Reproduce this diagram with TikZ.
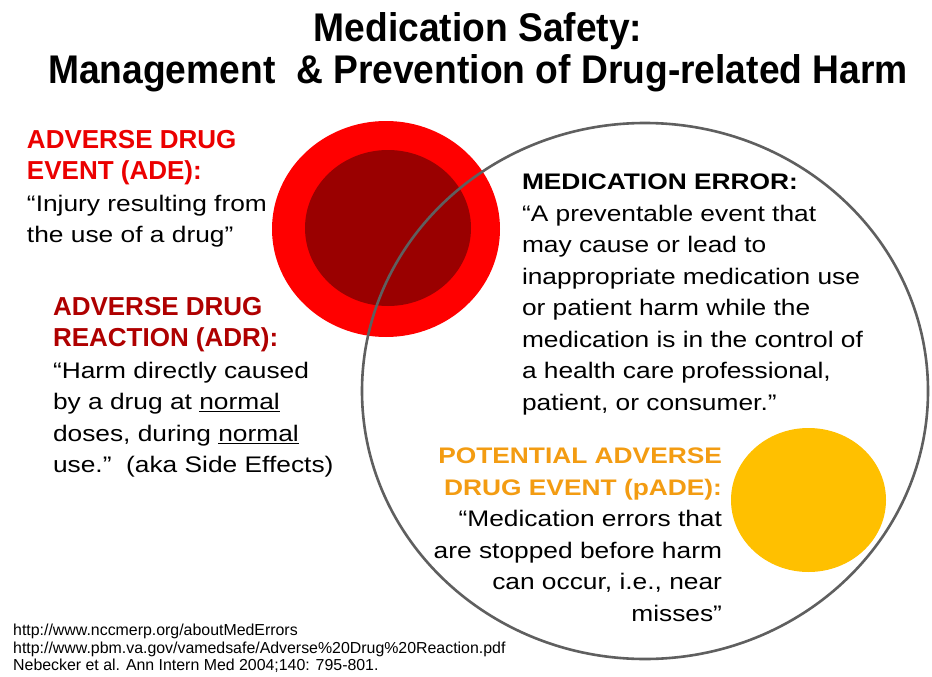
\documentclass[tikz,border=0pt]{standalone}
\usepackage{fontspec}
\setmainfont{Liberation Sans}
% slightly condensed face for the title, widened face for the definitions
\newfontfamily\titlefont[FakeStretch=0.93]{Liberation Sans}
\newfontfamily\slidefont[FakeStretch=1.17]{Liberation Sans}
\newfontfamily\notefont{Liberation Sans}

\definecolor{adered}{RGB}{235,0,0}
\definecolor{adrdark}{RGB}{175,0,0}
\definecolor{innerdark}{RGB}{154,0,0}
\definecolor{circlered}{RGB}{255,0,0}
\definecolor{ringgrey}{RGB}{95,95,95}
\definecolor{padeorange}{RGB}{243,156,18}
\definecolor{padeyellow}{RGB}{255,192,0}

% bold headings at two sizes, same line pitch as the body text
\newcommand\bighead[1]{{\notefont\bfseries\fontsize{26}{31.5}\selectfont #1}}
\newcommand\smallhead[1]{{\bfseries\fontsize{22.5}{31.5}\selectfont #1}}

\begin{document}
\begin{tikzpicture}[x=1pt,y=-1pt,
  block/.style={inner sep=0pt, outer sep=0pt,
    font=\slidefont\fontsize{22.5}{31.5}\selectfont},
  ring/.style={draw=ringgrey, line width=2.6pt},
]
\useasboundingbox (0,0) rectangle (932,677);
\fill[white] (0,0) rectangle (932,677);

% adverse drug event / adverse drug reaction discs
\fill[circlered] (386,229) ellipse [x radius=114, y radius=108];
\fill[innerdark] (388,228) ellipse [x radius=83, y radius=78];
% medication error ring
\draw[ring] (645,391) ellipse [x radius=283, y radius=268];
% potential adverse drug event disc
\fill[padeyellow] (808.5,500) ellipse [x radius=77.5, y radius=72];

% title
\node[inner sep=0pt, anchor=north, align=center,
      font=\titlefont\bfseries\fontsize{40}{42}\selectfont] (title) at (478,12)
  {Medication Safety:\\Management\ \ \& Prevention of Drug-related Harm};

% definitions
\node[block, anchor=north west, align=left] (ade) at (27,130)
  {\bighead{\color{adered}ADVERSE DRUG}\\
   \bighead{\color{adered}EVENT (ADE):}\\
   “Injury resulting from\\
   the use of a drug”};

\node[block, anchor=north west, align=left] (adr) at (53,297)
  {\bighead{\color{adrdark}ADVERSE DRUG}\\
   \bighead{\color{adrdark}REACTION (ADR):}\\
   “Harm directly caused\\
   by a drug at \underline{normal}\\
   doses, during \underline{normal}\\
   use.”\ \ (aka Side Effects)};

\node[block, anchor=north west, align=left] (mederr) at (522,174)
  {\smallhead{MEDICATION ERROR:}\\
   “A preventable event that\\
   may cause or lead to\\
   inappropriate medication use\\
   or patient harm while the\\
   medication is in the control of\\
   a health care professional,\\
   patient, or consumer.”};

\node[block, anchor=north east, align=right] (pade) at (722,448)
  {\smallhead{\color{padeorange}POTENTIAL ADVERSE}\\
   \smallhead{\color{padeorange}DRUG EVENT (pADE):}\\
   “Medication errors that\\
   are stopped before harm\\
   can occur, i.e., near\\
   misses”};

% sources
\node[inner sep=0pt, anchor=north west, align=left,
      font=\notefont\fontsize{15.9}{17.5}\selectfont] (refs) at (13,624)
  {http://www.nccmerp.org/aboutMedErrors\\
   http://www.pbm.va.gov/vamedsafe/Adverse\%20Drug\%20Reaction.pdf\\
   Nebecker et al. Ann Intern Med 2004;140: 795-801.};
\end{tikzpicture}
\end{document}
